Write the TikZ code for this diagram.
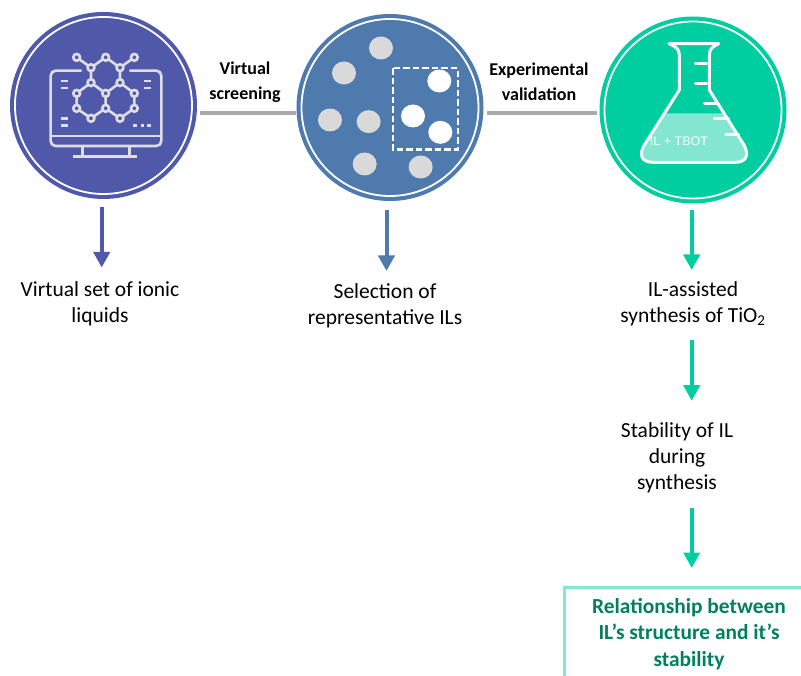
\documentclass[tikz,border=0pt]{standalone}
\usepackage{fontspec}
\setmainfont{Carlito}
\newfontfamily\arialfont{Liberation Sans}
\usetikzlibrary{arrows.meta}
\definecolor{cOne}{RGB}{80,88,170}
\definecolor{cTwo}{RGB}{78,122,174}
\definecolor{cThree}{RGB}{0,205,160}
\definecolor{cLiquid}{RGB}{130,230,208}
\definecolor{cGrayLine}{RGB}{170,170,170}
\definecolor{cDot}{RGB}{217,217,217}
\definecolor{cIcon}{RGB}{222,222,226}
\definecolor{cGreenText}{RGB}{0,128,96}
\tikzset{
  disc/.style={circle,inner sep=0pt,minimum size=187pt},
  ring/.style={draw=white,line width=1.8pt},
  link/.style={draw=cGrayLine,line width=4pt},
  arrowline/.style={line width=4pt,-{Triangle[length=15.5pt,width=16pt]}},
  bodytext/.style={align=center,font=\fontsize{21.5}{26}\selectfont,text=black,inner sep=0pt},
  linktext/.style={align=center,font=\fontsize{18}{24.5}\selectfont\bfseries,text=black,inner sep=0pt},
  iconline/.style={draw=cIcon,line width=2.6pt},
  atom/.style={draw=cIcon,fill=cOne,line width=2.6pt},
  flaskline/.style={draw=white,line width=3pt,line cap=round,line join=round},
}
\begin{document}
\begin{tikzpicture}[x=1pt,y=-1pt]
\clip (0,0) rectangle (801,676);
\fill[white] (0,0) rectangle (801,676);

% circles
\node[disc,fill=cOne] (c1) at (103.5,105.5) {};
\node[disc,fill=cTwo] (c2) at (390,107.5) {};
\node[disc,fill=cThree] (c3) at (693,110) {};
\draw[ring] (c1.center) circle[radius=88.5];
\draw[ring] (c2.center) circle[radius=88.5];
\draw[ring] (c3.center) circle[radius=88.5];

% icon 1: monitor and molecule
\begin{scope}[shift={(0,0)},x=0.3333pt,y=-0.3333pt]
  \draw[iconline,rounded corners=5pt] (245,212) -- (152,212) -- (152,438) -- (484,438) -- (484,212) -- (388,212);
  \draw[iconline] (152,408) -- (484,408);
  \draw[iconline] (248,438) -- (248,469) (388,438) -- (388,469);
  \draw[iconline] (220,469) -- (412,469);
  \draw[iconline] (182,243) -- (204,243) (182,264) -- (204,264)
    (432,243) -- (454,243) (432,264) -- (454,264)
    (182,355) -- (204,355) (182,377) -- (204,377)
    (400,377) -- (410,377) (422,377) -- (432,377) (442,377) -- (452,377);
  \draw[iconline] (230,172) -- (273,203) -- (317,172) -- (360,203) -- (403,172)
    (273,203) -- (273,248) (360,203) -- (360,248)
    (230,280) -- (273,248) -- (317,280) -- (360,248) -- (403,280)
    (230,280) -- (230,325) -- (273,355) -- (317,325) -- (360,355) -- (403,325) -- (403,280)
    (317,280) -- (317,325);
  \foreach \p in {(230,172),(317,172),(403,172),(273,203),(360,203),(273,248),(360,248),
                  (230,280),(317,280),(403,280),(230,325),(317,325),(403,325),(273,355),(360,355)}
    \draw[atom] \p circle[radius=3.4pt];
\end{scope}

% icon 2: dots and dashed selection
\begin{scope}[shift={(290,0)},x=0.3333pt,y=-0.3333pt]
  \foreach \p in {(273,144),(162,219),(120,360),(236,365),(224,492),(392,501)}
    \fill[cDot] \p ellipse[x radius=12pt,y radius=11.5pt];
  \foreach \p in {(448,243),(369,348),(451,397)}
    \fill[white] \p ellipse[x radius=12pt,y radius=11.5pt];
  \draw[white,line width=2.3pt,dash pattern=on 6.5pt off 3pt] (308,205) rectangle (503,449);
\end{scope}

% icon 3: flask
\begin{scope}[shift={(590,0)},x=0.3333pt,y=-0.3333pt]
  \fill[cLiquid] (224,340) -- (405,340) -- (462,435)
     .. controls (478,465) and (470,487) .. (435,487) -- (190,487)
     .. controls (155,487) and (145,465) .. (163,435) -- cycle;
  \draw[flaskline] (237,131) -- (386,131) (237,131) .. controls (255,140) and (268,145) .. (268,165)
     -- (268,270) -- (163,435) .. controls (145,465) and (155,487) .. (190,487)
     -- (435,487) .. controls (470,487) and (478,465) .. (462,435)
     -- (358,270) -- (358,165) .. controls (358,145) and (370,140) .. (386,131);
  \draw[flaskline] (316,190) -- (350,190) (316,250) -- (350,250) (343,310) -- (385,310)
     (373,355) -- (415,355) (408,403) -- (446,403);
  \node[inner sep=0pt,text=white,font=\arialfont\fontsize{12.5}{14}\selectfont] (liquidlabel) at (267,425) {IL + TBOT};
\end{scope}

% gray links
\coordinate (l1a) at (200,113.3); \coordinate (l1b) at (295.5,113.3);
\coordinate (l2a) at (487,113.3); \coordinate (l2b) at (597,113.3);
\draw[link] (l1a) -- (l1b);
\draw[link] (l2a) -- (l2b);
\node[linktext] (vs) at (245,82) {Virtual\\screening};
\node[linktext] (ev) at (539,82) {Experimental\\validation};

% arrows
\coordinate (a1a) at (101.7,207); \coordinate (a1b) at (101.7,267.5);
\coordinate (a2a) at (386.5,210); \coordinate (a2b) at (386.5,271);
\coordinate (a3a) at (691.7,210); \coordinate (a3b) at (691.7,270);
\coordinate (a4a) at (691.7,340); \coordinate (a4b) at (691.7,400.7);
\coordinate (a5a) at (691.7,508); \coordinate (a5b) at (691.7,568);
\draw[arrowline,cOne] (a1a) -- (a1b);
\draw[arrowline,cTwo] (a2a) -- (a2b);
\draw[arrowline,cThree] (a3a) -- (a3b);
\draw[arrowline,cThree] (a4a) -- (a4b);
\draw[arrowline,cThree] (a5a) -- (a5b);

% labels
\node[bodytext] (t1) at (100,304) {Virtual set of ionic\\liquids};
\node[bodytext] (t2) at (385,306) {Selection of\\representative ILs};
\node[bodytext] (t3) at (693,304) {IL-assisted\\synthesis of TiO\textsubscript{2}};
\node[bodytext] (t4) at (677,458) {Stability of IL\\during\\synthesis};

% result box (runs past the page edge)
\node[draw=cLiquid,line width=3pt,minimum width=249pt,minimum height=94pt,inner sep=0pt,
      align=center,text=cGreenText,font=\fontsize{21.4}{26.5}\selectfont\bfseries] (box) at (689,634)
  {Relationship between\\IL’s structure and it’s\\stability};
\end{tikzpicture}
\end{document}
